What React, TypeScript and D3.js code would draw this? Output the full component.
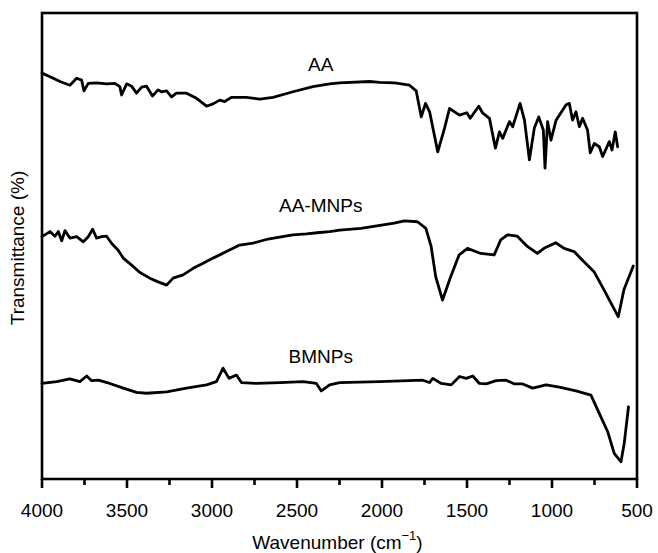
import React from "react";
import * as d3 from "d3";

// FTIR spectra: [wavenumber (cm^-1), transmittance (%, offset per trace)]
const aaSpectrum: [number, number][] = [
  [4000, 87.1], [3953, 86.3], [3894, 85.3], [3836, 84.5], [3796, 86.0], [3767, 85.6],
  [3753, 83.3], [3728, 84.9], [3679, 85.0], [3620, 84.8], [3571, 84.9], [3542, 84.2],
  [3532, 82.4], [3502, 84.8], [3473, 84.3], [3444, 82.8], [3414, 84.1], [3385, 84.3],
  [3350, 82.2], [3317, 83.5], [3297, 83.1], [3267, 83.3], [3238, 82.0], [3209, 82.8],
  [3150, 82.8], [3091, 81.7], [3032, 80.0], [2994, 80.5], [2954, 81.3], [2925, 81.0],
  [2886, 81.9], [2797, 81.9], [2719, 81.5], [2641, 81.9], [2524, 83.1], [2406, 84.2],
  [2308, 84.8], [2249, 85.0], [2073, 85.3], [2014, 85.1], [1926, 85.0], [1838, 84.5],
  [1799, 83.3], [1769, 77.7], [1744, 80.6], [1720, 78.8], [1672, 70.2], [1632, 75.3],
  [1603, 79.5], [1544, 78.1], [1501, 78.6], [1481, 77.4], [1431, 80.0], [1407, 78.5],
  [1368, 77.4], [1333, 71.0], [1309, 74.5], [1290, 73.1], [1250, 76.7], [1231, 75.6],
  [1188, 80.6], [1162, 77.0], [1133, 68.5], [1104, 75.3], [1078, 77.7], [1051, 74.9],
  [1041, 66.7], [1026, 76.7], [1006, 72.7], [976, 77.0], [917, 80.3], [898, 80.6],
  [879, 77.0], [859, 78.8], [839, 75.6], [820, 77.4], [791, 74.9], [775, 70.0],
  [751, 72.0], [722, 71.3], [702, 69.2], [663, 72.4], [647, 70.6], [628, 74.5], [614, 71.3],
];

const aaMnpSpectrum: [number, number][] = [
  [4000, 52.0], [3953, 53.1], [3924, 52.1], [3904, 53.1], [3884, 51.1], [3865, 53.3],
  [3836, 51.7], [3796, 52.0], [3757, 50.9], [3728, 52.0], [3702, 53.6], [3679, 51.7],
  [3649, 52.0], [3620, 52.1], [3591, 50.6], [3552, 49.1], [3522, 47.4], [3473, 45.9],
  [3424, 44.3], [3366, 43.1], [3317, 42.3], [3267, 41.6], [3229, 43.1], [3170, 43.8],
  [3111, 45.2], [3052, 46.3], [2994, 47.4], [2915, 48.8], [2837, 50.2], [2759, 50.6],
  [2680, 51.4], [2602, 51.9], [2524, 52.4], [2445, 52.6], [2367, 52.9], [2308, 53.1],
  [2249, 53.4], [2124, 53.8], [1928, 54.9], [1869, 55.4], [1791, 55.2], [1742, 53.8],
  [1711, 49.9], [1684, 43.4], [1644, 38.4], [1596, 43.4], [1546, 48.1], [1497, 49.5],
  [1419, 48.4], [1340, 48.1], [1302, 51.3], [1262, 52.4], [1204, 52.1], [1145, 49.9],
  [1086, 48.4], [1047, 49.5], [978, 50.7], [929, 49.5], [870, 48.8], [812, 46.6],
  [753, 44.5], [694, 40.6], [610, 34.8], [577, 40.6], [522, 45.7],
];

const bmnpSpectrum: [number, number][] = [
  [4000, 20.5], [3914, 20.9], [3836, 21.5], [3777, 20.9], [3737, 22.1], [3708, 21.1],
  [3669, 21.2], [3601, 20.5], [3522, 19.5], [3444, 18.6], [3385, 18.4], [3267, 18.7],
  [3150, 19.5], [3032, 20.2], [2974, 20.9], [2935, 23.8], [2900, 21.6], [2856, 22.3],
  [2827, 20.7], [2739, 20.5], [2602, 20.7], [2465, 20.9], [2386, 20.5], [2357, 18.9],
  [2308, 20.2], [2249, 20.7], [2014, 20.9], [1760, 21.2], [1721, 20.7], [1701, 21.6],
  [1652, 20.5], [1593, 20.2], [1544, 22.0], [1505, 21.6], [1466, 22.1], [1427, 20.5],
  [1387, 20.4], [1329, 21.1], [1270, 21.2], [1221, 20.4], [1172, 20.4], [1114, 19.5],
  [1035, 20.2], [957, 19.7], [859, 18.9], [771, 18.0], [722, 14.1], [673, 10.2],
  [634, 5.5], [594, 3.7], [575, 7.7], [550, 15.5],
];

const seriesNames = ["AA", "AA-MNPs", "BMNPs"];
// Label anchor per trace: [wavenumber, transmittance]
const labelAnchors: [number, number][] = [[2360, 87.6], [2360, 57.3], [2360, 25.0]];

const majorTicks = [4000, 3500, 3000, 2500, 2000, 1500, 1000, 500];
const minorTicks = [3750, 3250, 2750, 2250, 1750, 1250, 750];

const W = 658;
const H = 553;
const margin = { left: 42, right: 21, top: 13, bottom: 74 };

export default function App() {
  const x = d3.scaleLinear().domain([4000, 500]).range([margin.left, W - margin.right]);
  const y = d3.scaleLinear().domain([0, 100]).range([H - margin.bottom, margin.top]);
  const line = d3
    .line<[number, number]>()
    .x((d) => x(d[0]))
    .y((d) => y(d[1]));

  const spectra = [aaSpectrum, aaMnpSpectrum, bmnpSpectrum];
  const font = "Liberation Sans, Arial, sans-serif";
  const x0 = x(4000);
  const x1 = x(500);
  const yBottom = y(0);
  const yTop = y(100);

  return (
    <svg
      width={W}
      height={H}
      style={{ position: "absolute", left: 0, top: 0, background: "#fff" }}
      fontFamily={font}
    >
      {spectra.map((s, i) => (
        <path
          key={seriesNames[i]}
          d={line(s) ?? ""}
          fill="none"
          stroke="#000"
          strokeWidth={2.8}
          strokeLinejoin="round"
          strokeLinecap="round"
        />
      ))}

      {seriesNames.map((name, i) => (
        <text
          key={name}
          x={x(labelAnchors[i][0])}
          y={y(labelAnchors[i][1])}
          textAnchor="middle"
          fontSize={19}
          fill="#000"
        >
          {name}
        </text>
      ))}

      {/* frame */}
      <rect
        x={x0}
        y={yTop}
        width={x1 - x0}
        height={yBottom - yTop}
        fill="none"
        stroke="#000"
        strokeWidth={2.6}
      />

      {/* x ticks */}
      {majorTicks.map((t) => (
        <g key={t}>
          <line x1={x(t)} x2={x(t)} y1={yBottom} y2={yBottom + 9} stroke="#000" strokeWidth={2.6} />
          <text x={x(t)} y={yBottom + 38} textAnchor="middle" fontSize={19} fill="#000">
            {t}
          </text>
        </g>
      ))}
      {minorTicks.map((t) => (
        <line key={t} x1={x(t)} x2={x(t)} y1={yBottom} y2={yBottom + 6} stroke="#000" strokeWidth={2.6} />
      ))}

      {/* axis titles */}
      <text x={(x0 + x1) / 2 - 2} y={H - 4} textAnchor="middle" fontSize={19} fill="#000">
        Wavenumber (cm
        <tspan fontSize={13} dy={-9}>−1</tspan>
        <tspan dy={9}>)</tspan>
      </text>
      <text
        transform={`translate(24, ${(yTop + yBottom) / 2 + 2}) rotate(-90)`}
        textAnchor="middle"
        fontSize={19}
        fill="#000"
      >
        Transmittance (%)
      </text>
    </svg>
  );
}
